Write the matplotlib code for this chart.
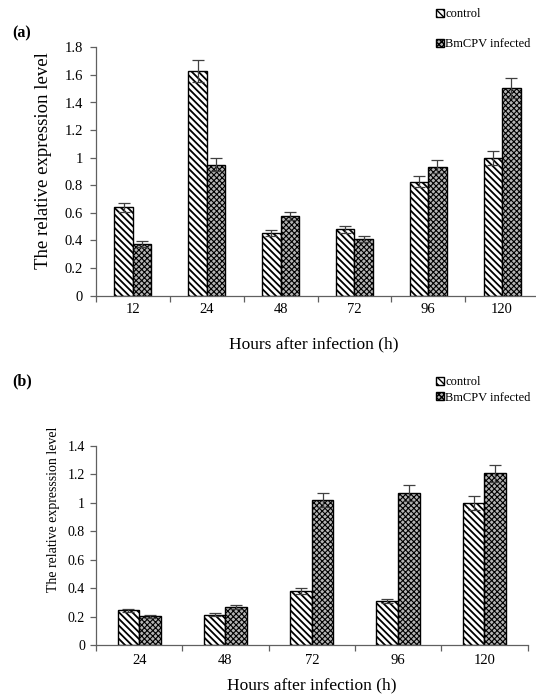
import matplotlib
matplotlib.use("Agg")
import matplotlib.pyplot as plt
import numpy as np

plt.rcParams['font.family'] = ['Liberation Serif', 'DejaVu Serif']
plt.rcParams['hatch.linewidth'] = 1.0

# ---- data ----
hours_a = ['12', '24', '48', '72', '96', '120']
control_a = [0.64, 1.63, 0.455, 0.48, 0.825, 1.0]
control_a_err = [0.03, 0.08, 0.02, 0.025, 0.04, 0.05]
infected_a = [0.375, 0.95, 0.58, 0.41, 0.935, 1.505]
infected_a_err = [0.02, 0.05, 0.03, 0.02, 0.045, 0.075]

hours_b = ['24', '48', '72', '96', '120']
control_b = [0.245, 0.215, 0.38, 0.31, 1.0]
control_b_err = [0.01, 0.01, 0.02, 0.015, 0.05]
infected_b = [0.205, 0.27, 1.02, 1.07, 1.21]
infected_b_err = [0.01, 0.015, 0.05, 0.055, 0.06]

labels = ['control', 'BmCPV infected']

W, H = 536, 696
fig = plt.figure(figsize=(W / 100, H / 100), dpi=100)

axis_col = '#606060'
err_col = '#404040'


def panel(rect, cats, ctrl, cerr, inf, ierr, ymax, yticks, ylabel,
          ylab_xy, xlab_xy, ylab_fs, ytick_fs, xtick_fs, ypad, xpad):
    ax = fig.add_axes(rect)
    x = np.arange(len(cats))
    w = 0.25
    with plt.rc_context({'hatch.linewidth': 1.3}):
        b1 = ax.bar(x - w / 2, ctrl, w, facecolor='white', edgecolor='black',
                    hatch='\\\\\\\\\\', linewidth=1.0, label=labels[0], zorder=2)
    with plt.rc_context({'hatch.linewidth': 0.8}):
        b2 = ax.bar(x + w / 2, inf, w, facecolor='#b4b4b4', edgecolor='black',
                    hatch='xxxxxx', linewidth=1.0, label=labels[1], zorder=2)
    ax.errorbar(x - w / 2, ctrl, yerr=cerr, fmt='none', ecolor=err_col,
                elinewidth=0.9, capsize=4, capthick=0.9, zorder=3)
    ax.errorbar(x + w / 2, inf, yerr=ierr, fmt='none', ecolor=err_col,
                elinewidth=0.9, capsize=4, capthick=0.9, zorder=3)
    ax.set_xlim(-0.5, len(cats) - 0.5)
    ax.set_ylim(0, ymax)
    ax.set_yticks(yticks)
    ax.set_yticklabels([('%g' % t) for t in yticks], fontsize=ytick_fs)
    ax.set_xticks(x)
    ax.set_xticklabels(cats, fontsize=xtick_fs)
    ax.set_xticks(np.arange(len(cats) + 1) - 0.5, minor=True)
    ax.tick_params(axis='x', which='major', length=0, pad=xpad)
    ax.tick_params(axis='x', which='minor', length=4.5, width=0.9,
                   color=axis_col, direction='out')
    ax.tick_params(axis='y', which='major', length=4.5, width=0.9,
                   color=axis_col, direction='out', pad=ypad)
    for s in ['top', 'right']:
        ax.spines[s].set_visible(False)
    for s in ['left', 'bottom']:
        ax.spines[s].set_color(axis_col)
        ax.spines[s].set_linewidth(0.9)
    ax.set_ylabel(ylabel, fontsize=ylab_fs)
    ax.yaxis.set_label_coords(*ylab_xy)
    ax.set_xlabel('Hours after infection (h)', fontsize=12.5)
    ax.xaxis.set_label_coords(*xlab_xy)
    ax.xaxis.label.set_va('top')
    ax.patch.set_alpha(0)
    return ax, b1, b2


# panel (a)
ax_a, a1, a2 = panel([96 / W, 1 - 295.7 / H, 443 / W, 248.4 / H],
                     hours_a, control_a, control_a_err, infected_a, infected_a_err,
                     1.8, np.round(np.arange(0, 1.81, 0.2), 1),
                     'The relative expression level',
                     (-0.10, 0.545), (0.492, -0.165), 13.5, 10.5, 10.5, 5, 5.5)
fig.legend([a1, a2], labels, loc='upper left', bbox_to_anchor=(436 / W, 1 - 8 / H),
           frameon=False, fontsize=9, handlelength=0.6, handleheight=0.6,
           handletextpad=0.12, borderpad=0, borderaxespad=0, labelspacing=1.45)
fig.text(12 / W, 1 - 33 / H, '(a)', fontsize=11.5, fontweight='bold', va='center')

# panel (b)
ax_b, c1, c2 = panel([96 / W, 1 - 645.3 / H, 431.5 / W, 199.3 / H],
                     hours_b, control_b, control_b_err, infected_b, infected_b_err,
                     1.4, np.round(np.arange(0, 1.41, 0.2), 1),
                     'The relative expresssion level',
                     (-0.083, 0.68), (0.5, -0.16), 10, 10, 10.5, 3.5, 6)
fig.legend([c1, c2], labels, loc='upper left', bbox_to_anchor=(436 / W, 1 - 376 / H),
           frameon=False, fontsize=9, handlelength=0.6, handleheight=0.6,
           handletextpad=0.12, borderpad=0, borderaxespad=0, labelspacing=0.3)
fig.text(12 / W, 1 - 381 / H, '(b)', fontsize=11.5, fontweight='bold', va='center')

fig.savefig('out.png', dpi=100, facecolor='white')
